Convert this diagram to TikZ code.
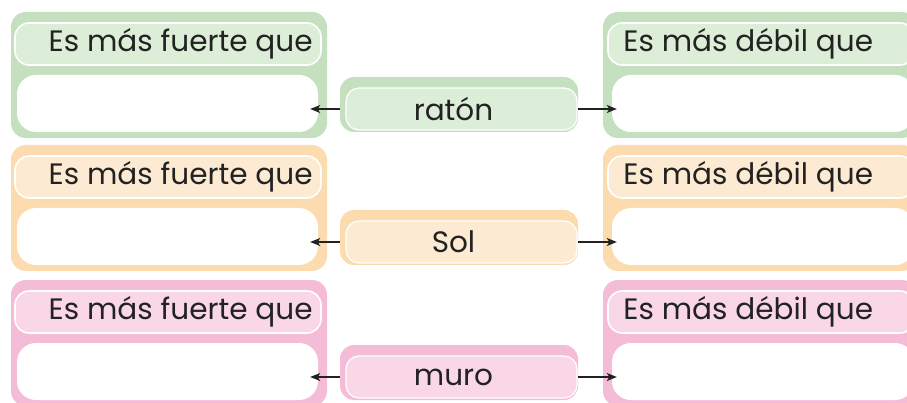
\documentclass[tikz,border=0pt]{standalone}
\usepackage{fontspec}
\setmainfont{Poppins}
\usetikzlibrary{arrows.meta}
\definecolor{frameA}{HTML}{C5E0BE}
\definecolor{fillA}{HTML}{DCEDD8}
\definecolor{frameB}{HTML}{FCDBAE}
\definecolor{fillB}{HTML}{FDEAD2}
\definecolor{frameC}{HTML}{F5BCD8}
\definecolor{fillC}{HTML}{F9D7E7}
\definecolor{ink}{HTML}{222222}
\tikzset{
  outerbox/.style={rectangle, rounded corners=15pt, inner sep=0pt},
  labelbox/.style={rectangle, rounded corners=14pt, inner sep=0pt, draw=white, line width=1.6pt, minimum width=306pt, minimum height=42pt},
  whitebox/.style={rectangle, rounded corners=19pt, inner sep=0pt, fill=white, minimum height=57pt},
  midouter/.style={rectangle, rounded corners=14pt, inner sep=0pt, minimum width=238pt, minimum height=55pt},
  midinner/.style={rectangle, rounded corners=13pt, inner sep=0pt, draw=white, line width=1.2pt, minimum width=231pt, minimum height=42pt},
  txt/.style={font=\fontsize{29.5}{32}\selectfont, text=ink, inner sep=0pt},
  arr/.style={-{Stealth[length=10pt,width=8pt,inset=2.5pt]}, line width=1.1pt, draw=ink}
}
\begin{document}
\begin{tikzpicture}[x=1pt,y=-1pt]
\useasboundingbox (0,0) rectangle (907,403);
\clip (0,0) rectangle (907,403);
\foreach \r/\dy/\fr/\fl/\word in {a/0/frameA/fillA/ratón, b/133/frameB/fillB/Sol, c/268/frameC/fillC/muro}{
  % left block
  \node[outerbox, fill=\fr, minimum width=316pt, minimum height=126pt] (lo\r) at (169,75+\dy) {};
  \node[labelbox, fill=\fl] (ll\r) at (168,44+\dy) {};
  \node[txt, anchor=east] (lt\r) at ([xshift=-9pt]ll\r.east) {Es más fuerte que};
  \node[whitebox, minimum width=301pt] (lw\r) at (167.5,103.5+\dy) {};
  % right block
  \node[outerbox, fill=\fr, minimum width=314pt, minimum height=126pt] (ro\r) at (760,75+\dy) {};
  \node[labelbox, fill=\fl, minimum width=306pt] (rl\r) at (761,44+\dy) {};
  \node[txt, anchor=west] (rt\r) at ([xshift=16pt]rl\r.west) {Es más débil que};
  \node[whitebox, minimum width=302pt] (rw\r) at (763,103.5+\dy) {};
  % middle
  \node[midouter, fill=\fr] (mo\r) at (459,104.5+\dy) {};
  \node[midinner, fill=\fl] (mi\r) at (461.5,109+\dy) {};
  \node[txt] (mt\r) at ([xshift=-8pt]mi\r.center) {\word};
  % arrows
  \draw[arr] (mo\r.west |- mi\r.center) -- ([xshift=-8pt]lw\r.east |- mi\r.center);
  \draw[arr] (mo\r.east |- mi\r.center) -- ([xshift=5pt]rw\r.west |- mi\r.center);
}
\end{tikzpicture}
\end{document}
